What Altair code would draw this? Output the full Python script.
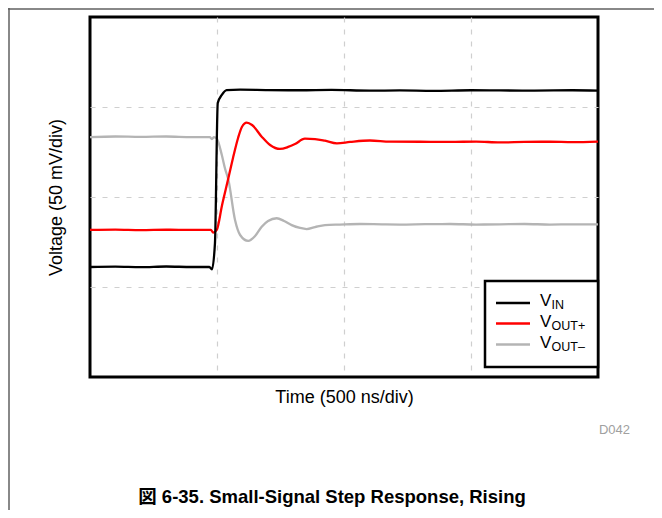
import altair as alt
import pandas as pd

# ---- data (time in ns, voltage in mV) ----
VIN_t = [0, 100, 200, 300, 400, 470, 480, 492, 503, 519, 538, 591, 700, 827, 950, 1100,
         1220, 1350, 1500, 1614, 1750, 1900, 2000]
VIN_v = [61.1, 61.3, 61.0, 61.4, 61.1, 61.1, 59.8, 74.4, 152.2, 156.7, 159.4, 159.6, 159.4,
         159.3, 159.5, 159.1, 159.2, 159.0, 159.3, 159.2, 159.1, 159.3, 159.1]

VOUTP_t = [0, 100, 200, 300, 400, 476, 485, 499, 520, 543, 563, 583, 598, 617, 638, 676, 709,
           748, 780, 807, 846, 886, 925, 972, 1024, 1102, 1181, 1300, 1417, 1520, 1614, 1711,
           1811, 1900, 2000]
VOUTP_v = [81.7, 81.9, 81.6, 81.8, 81.7, 81.7, 80.2, 81.7, 95.6, 109.4, 121.7, 132.8, 138.9,
           141.3, 140.0, 133.5, 128.9, 126.7, 127.8, 129.4, 132.4, 132.2, 131.3, 129.8, 130.6,
           131.4, 130.8, 130.7, 130.6, 130.8, 130.3, 130.6, 130.7, 130.5, 130.8]

VOUTM_t = [0, 100, 200, 300, 400, 472, 480, 488, 499, 519, 531, 545, 571, 591, 623, 650, 676,
           701, 735, 764, 794, 827, 853, 886, 925, 984, 1063, 1150, 1220, 1320, 1417, 1520,
           1614, 1711, 1811, 1900, 2000]
VOUTM_v = [133.3, 133.6, 133.4, 133.6, 133.3, 133.3, 132.2, 133.3, 132.5, 123.3, 116.1, 109.4,
           87.2, 78.9, 75.6, 78.3, 83.5, 86.7, 88.2, 86.7, 84.4, 82.8, 82.2, 83.3, 84.4, 84.7,
           85.0, 84.8, 84.7, 84.9, 85.0, 84.7, 84.8, 85.0, 84.7, 84.8, 84.8]

X_GRID = [500, 1000, 1500]
Y_GRID = [50, 100, 150]
SERIES_COLORS = {"VIN": "#000000", "VOUT+": "#ff0000", "VOUT-": "#b4b4b4"}

FONT = "Liberation Sans, Arial, Noto Sans CJK JP"
W, H = 508, 360

xs = alt.Scale(domain=[0, 2000], nice=False)
ys = alt.Scale(domain=[0, 200], nice=False)


def series(t, v, color):
    df = pd.DataFrame({"t": t, "v": v})
    return alt.Chart(df).mark_line(color=color, strokeWidth=2.3, interpolate="monotone").encode(
        x=alt.X("t:Q", scale=xs,
                axis=alt.Axis(values=X_GRID, labels=False, ticks=False, domain=False,
                              title="Time (500 ns/div)", titlePadding=11)),
        y=alt.Y("v:Q", scale=ys,
                axis=alt.Axis(values=Y_GRID, labels=False, ticks=False, domain=False,
                              title="Voltage (50 mV/div)", titlePadding=25)),
    )


one = alt.Data(values=[{}])

layers = [
    series(VOUTM_t, VOUTM_v, SERIES_COLORS["VOUT-"]),
    series(VOUTP_t, VOUTP_v, SERIES_COLORS["VOUT+"]),
    series(VIN_t, VIN_v, SERIES_COLORS["VIN"]),
]

# legend box
layers.append(alt.Chart(one).mark_rect(fill="white", stroke="black", strokeWidth=2.5).encode(
    x=alt.value(395), x2=alt.value(508), y=alt.value(264), y2=alt.value(350)))
leg_rows = [("VIN", "IN", 286), ("VOUT+", "OUT+", 306.5), ("VOUT-", "OUT\u2013", 327.5)]
for key, sub, yy in leg_rows:
    layers.append(alt.Chart(one).mark_rule(color=SERIES_COLORS[key], strokeWidth=2.5).encode(
        x=alt.value(406), x2=alt.value(440), y=alt.value(yy)))
    layers.append(alt.Chart(one).mark_text(text="V", font=FONT, fontSize=17, align="left",
                                           baseline="middle", color="black").encode(
        x=alt.value(450), y=alt.value(yy - 2)))
    layers.append(alt.Chart(one).mark_text(text=sub, font=FONT, fontSize=12.5, align="left",
                                           baseline="middle", color="black").encode(
        x=alt.value(461.5), y=alt.value(yy + 2)))

# code label and caption
layers.append(alt.Chart(one).mark_text(text="D042", font=FONT, fontSize=13, align="right",
                                       baseline="middle", color="#a0a0a0").encode(
    x=alt.value(540), y=alt.value(413)))
layers.append(alt.Chart(one).mark_text(text="図 6-35. Small-Signal Step Response, Rising",
                                       font=FONT, fontSize=18.5, fontWeight="bold",
                                       align="center", baseline="middle", color="black").encode(
    x=alt.value(242), y=alt.value(480)))

# page frame lines
layers.append(alt.Chart(one).mark_rule(color="#606060", strokeWidth=1.5).encode(
    x=alt.value(-82), x2=alt.value(566), y=alt.value(-8)))
layers.append(alt.Chart(one).mark_rule(color="#606060", strokeWidth=1.5).encode(
    x=alt.value(-81), y=alt.value(-9), y2=alt.value(495)))

chart = alt.layer(*layers).properties(
    width=W, height=H,
    autosize=alt.AutoSizeParams(type="none"),
    padding={"left": 82, "top": 9, "right": 56, "bottom": 133},
).configure_view(
    stroke="black", strokeWidth=3
).configure_axis(
    grid=True, gridDash=[5, 7], gridColor="#cfcfcf", gridWidth=1.2,
    titleFont=FONT, titleFontSize=18, titleFontWeight="normal", titleColor="black",
)

chart.save("out.html", embed_options={"renderer": "svg", "actions": False})
